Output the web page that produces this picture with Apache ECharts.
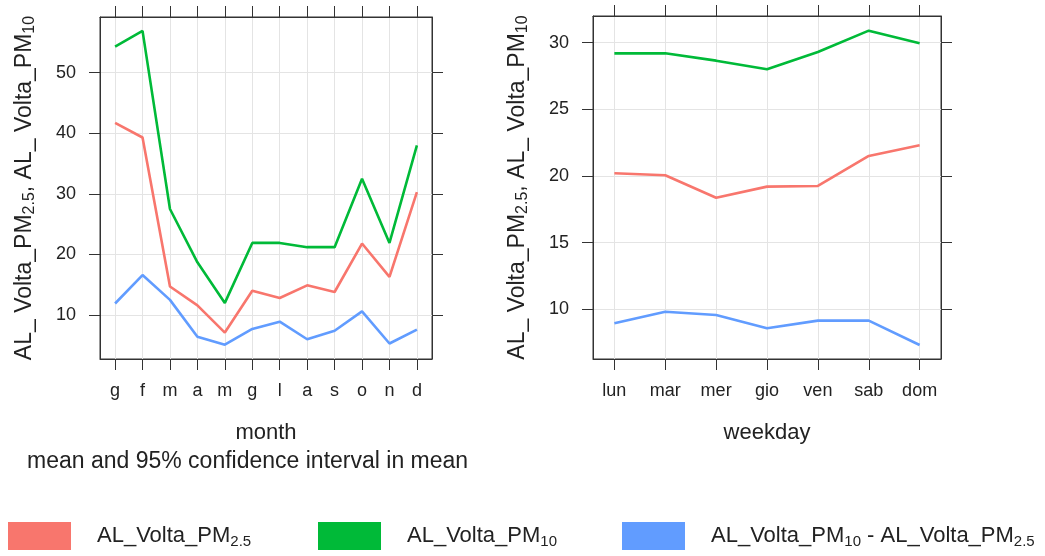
<!DOCTYPE html>
<html>
<head>
<meta charset="utf-8">
<script src="https://cdn.jsdelivr.net/npm/echarts@6/dist/echarts.min.js"></script>
<style>
  html, body { margin: 0; padding: 0; background: #fff; }
  #chart { width: 1045px; height: 556px; }
</style>
</head>
<body>
<div id="chart"></div>
<script>
// Month (Italian initials) and weekday categories
const monthLabels = ['g', 'f', 'm', 'a', 'm', 'g', 'l', 'a', 's', 'o', 'n', 'd'];
const weekdayLabels = ['lun', 'mar', 'mer', 'gio', 'ven', 'sab', 'dom'];

// Monthly means
const pm25Month = [41.7, 39.3, 14.7, 11.6, 7.1, 14.0, 12.8, 14.9, 13.8, 21.8, 16.3, 30.3];
const pm10Month = [54.3, 56.9, 27.5, 18.7, 12.0, 21.9, 21.9, 21.2, 21.2, 32.5, 21.9, 38.0];
const diffMonth = [11.9, 16.6, 12.5, 6.4, 5.1, 7.7, 8.9, 6.0, 7.4, 10.6, 5.3, 7.6];

// Weekday means
const pm25Week = [20.2, 20.05, 18.37, 19.2, 19.25, 21.5, 22.3];
const pm10Week = [29.2, 29.2, 28.65, 28.0, 29.3, 30.9, 29.95];
const diffWeek = [8.95, 9.82, 9.57, 8.57, 9.15, 9.15, 7.32];

// Y-axis tick values for each panel
const monthTicks = [10, 20, 30, 40, 50];
const weekTicks = [10, 15, 20, 25, 30];

const NAME_25 = 'AL_Volta_PM2.5';
const NAME_10 = 'AL_Volta_PM10';
const NAME_D = 'AL_Volta_PM10 - AL_Volta_PM2.5';

const COL_25 = '#F8766D';
const COL_10 = '#00BA38';
const COL_D = '#619CFF';

const FONT = '"Liberation Sans", Arial, sans-serif';
const TXT = '#222';
const FRAME = '#333';
const GRIDLINE = '#e4e4e4';

const titleRich = {
  n: { fontSize: 23, fontFamily: FONT, color: TXT, lineHeight: 27 },
  s: { fontSize: 16, fontFamily: FONT, color: TXT, lineHeight: 27, verticalAlign: 'bottom' }
};
const yTitle = '{n|AL_ Volta_PM}{s|2.5}{n|, AL_ Volta_PM}{s|10}';

const legendText = {};
legendText[NAME_25] = '{f|AL_Volta_PM}{s|2.5}';
legendText[NAME_10] = '{f|AL_Volta_PM}{s|10}';
legendText[NAME_D] = '{f|AL_Volta_PM}{s|10}{n| - AL_Volta_PM}{s|2.5}';

const legendRich = {
  f: { fontSize: 22, fontFamily: FONT, color: TXT, padding: [0, 0, 0, 21], lineHeight: 26 },
  n: { fontSize: 22, fontFamily: FONT, color: TXT, lineHeight: 26 },
  s: { fontSize: 15, fontFamily: FONT, color: TXT, lineHeight: 26, verticalAlign: 'bottom' }
};

function idx(arr) { return arr.map((_, i) => i); }
function pairs(arr) { return arr.map((v, i) => [i, v]); }

function xAxes(gridIndex, labels, min, max, name) {
  const ticks = idx(labels);
  return [
    {
      gridIndex, type: 'value', position: 'bottom', min, max,
      name, nameLocation: 'middle', nameGap: 63,
      nameTextStyle: { fontSize: 22, fontFamily: FONT, color: TXT },
      axisLine: { show: true, onZero: false, lineStyle: { color: FRAME, width: 1 } },
      axisTick: { show: true, length: 11, customValues: ticks, lineStyle: { color: FRAME, width: 1 } },
      axisLabel: {
        customValues: ticks, margin: 23, fontSize: 18, fontFamily: FONT, color: TXT,
        formatter: v => labels[Math.round(v)]
      },
      splitLine: { show: true, lineStyle: { color: GRIDLINE, width: 1 } }
    },
    {
      gridIndex, type: 'value', position: 'top', min, max,
      axisLine: { show: true, onZero: false, lineStyle: { color: FRAME, width: 1 } },
      axisTick: { show: true, length: 11, customValues: ticks, lineStyle: { color: FRAME, width: 1 } },
      axisLabel: { show: false },
      splitLine: { show: false }
    }
  ];
}

function yAxes(gridIndex, ticks, min, max) {
  return [
    {
      gridIndex, type: 'value', position: 'left', min, max,
      name: yTitle, nameLocation: 'middle', nameGap: 62, nameRotate: 90,
      nameTextStyle: { rich: titleRich },
      axisLine: { show: true, onZero: false, lineStyle: { color: FRAME, width: 1 } },
      axisTick: { show: true, length: 11, customValues: ticks, lineStyle: { color: FRAME, width: 1 } },
      axisLabel: { customValues: ticks, margin: 24, fontSize: 18, fontFamily: FONT, color: TXT, formatter: v => String(Math.round(v)) },
      splitLine: { show: true, lineStyle: { color: GRIDLINE, width: 1 } }
    },
    {
      gridIndex, type: 'value', position: 'right', min, max,
      axisLine: { show: true, onZero: false, lineStyle: { color: FRAME, width: 1 } },
      axisTick: { show: true, length: 11, customValues: ticks, lineStyle: { color: FRAME, width: 1 } },
      axisLabel: { show: false },
      splitLine: { show: false }
    }
  ];
}

function line(name, color, data, xi, yi) {
  return {
    name, type: 'line', xAxisIndex: xi, yAxisIndex: yi,
    data: pairs(data), showSymbol: false, symbol: 'none',
    lineStyle: { color, width: 2.6 }, itemStyle: { color },
    animation: false, z: 3
  };
}

function legendFor(name, left) {
  return {
    data: [name], left, top: 522, padding: 0, itemWidth: 63, itemHeight: 28,
    icon: 'rect', selectedMode: false,
    formatter: n => legendText[n],
    textStyle: { rich: legendRich }
  };
}

const chart = echarts.init(document.getElementById('chart'), null, { renderer: 'canvas' });

chart.setOption({
  backgroundColor: '#fff',
  animation: false,
  grid: [
    { left: 100, top: 17, width: 332, height: 342, show: true, borderColor: FRAME, borderWidth: 1, backgroundColor: 'transparent' },
    { left: 593, top: 16, width: 348, height: 343, show: true, borderColor: FRAME, borderWidth: 1, backgroundColor: 'transparent' }
  ],
  xAxis: [
    ...xAxes(0, monthLabels, -0.55, 11.55, 'month'),
    ...xAxes(1, weekdayLabels, -0.42, 6.42, 'weekday')
  ],
  yAxis: [
    ...yAxes(0, monthTicks, 2.74, 59.19),
    ...yAxes(1, weekTicks, 6.27, 32.0)
  ],
  legend: [
    legendFor(NAME_25, 8),
    legendFor(NAME_10, 318),
    legendFor(NAME_D, 622)
  ],
  graphic: [
    {
      type: 'text', left: 27, top: 450,
      style: {
        text: 'mean and 95% confidence interval in mean',
        fontSize: 23, fontFamily: FONT, fill: TXT
      }
    }
  ],
  series: [
    line(NAME_10, COL_10, pm10Month, 0, 0),
    line(NAME_25, COL_25, pm25Month, 0, 0),
    line(NAME_D, COL_D, diffMonth, 0, 0),
    line(NAME_10, COL_10, pm10Week, 2, 2),
    line(NAME_25, COL_25, pm25Week, 2, 2),
    line(NAME_D, COL_D, diffWeek, 2, 2)
  ]
});
</script>
</body>
</html>
